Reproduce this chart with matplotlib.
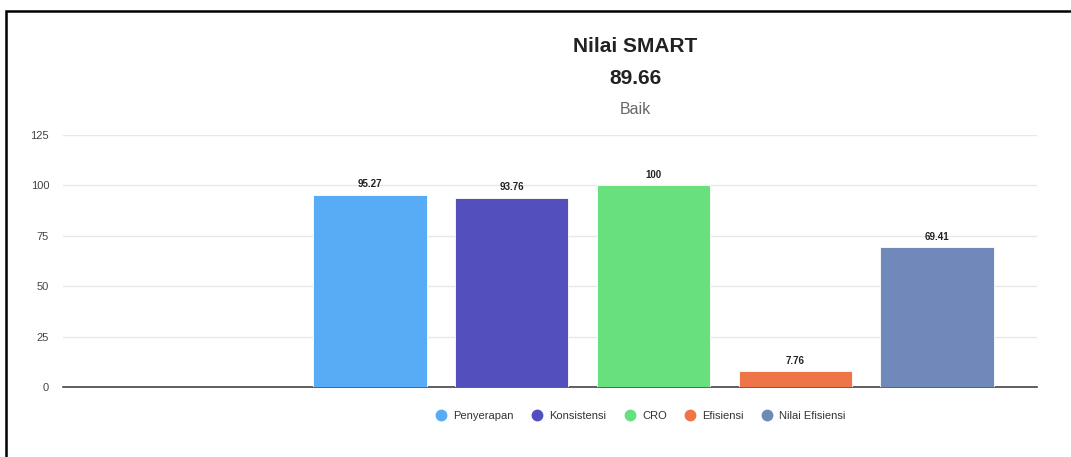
import numpy as np
import matplotlib.pyplot as plt
from matplotlib.patches import Rectangle
from matplotlib.lines import Line2D

plt.rcParams['font.family'] = ['Liberation Sans Narrow', 'Liberation Sans', 'DejaVu Sans']

series = ['Penyerapan', 'Konsistensi', 'CRO', 'Efisiensi', 'Nilai Efisiensi']
values = [95.27, 93.76, 100, 7.76, 69.41]
labels = ['95.27', '93.76', '100', '7.76', '69.41']
colors = ['#58acf5', '#5350be', '#68e07e', '#ee7548', '#7189ba']
yticks = [0, 25, 50, 75, 100, 125]
title = 'Nilai SMART'
score = '89.66'
grade = 'Baik'

fig = plt.figure(figsize=(10.71, 4.57), dpi=100)
ax = fig.add_axes([63 / 1071, 1 - 387 / 457, (1037 - 63) / 1071, (387 - 135) / 457])

x = np.arange(len(values))
ax.bar(x, values, width=0.8, color=colors, edgecolor='white', linewidth=0.6, zorder=3)
for xi, v, lab in zip(x, values, labels):
    ax.annotate(lab, (xi, v), xytext=(0, 4), textcoords='offset points',
                ha='center', va='bottom', fontsize=7, fontweight='bold', color='#222222')

ax.set_xlim(-2.166, 4.705)
ax.set_ylim(0, 125)
ax.set_yticks(yticks)
ax.set_xticks([])
ax.tick_params(axis='y', length=0, labelsize=8, labelcolor='#444444', pad=10)
ax.grid(axis='y', color='#e8e8e8', linewidth=1, zorder=0)
for s in ['top', 'right', 'left']:
    ax.spines[s].set_visible(False)
ax.spines['bottom'].set_color('#444444')
ax.spines['bottom'].set_linewidth(1.2)
ax.spines['bottom'].set_zorder(2)

fig.text(635 / 1071, 1 - 47 / 457, title, ha='center', va='center', fontsize=15, fontweight='bold', color='#222222')
fig.text(635 / 1071, 1 - 78 / 457, score, ha='center', va='center', fontsize=15, fontweight='bold', color='#222222')
fig.text(635 / 1071, 1 - 110 / 457, grade, ha='center', va='center', fontsize=11.5, color='#666666')

handles = [Line2D([], [], marker='o', linestyle='', markersize=7.5, markerfacecolor=c,
                  markeredgecolor=c) for c in colors]
fig.legend(handles, series, loc='center', bbox_to_anchor=(638 / 1071, 1 - 416 / 457),
           ncol=5, frameon=False, fontsize=8, handletextpad=0.1, columnspacing=1.1,
           labelcolor='#333333')

fig.patches.append(Rectangle((6 / 1071, -0.05), 1.2, 1 - 11 / 457 + 0.05, transform=fig.transFigure,
                             fill=False, edgecolor='black', linewidth=1.8))

fig.savefig('out.png', dpi=100)
